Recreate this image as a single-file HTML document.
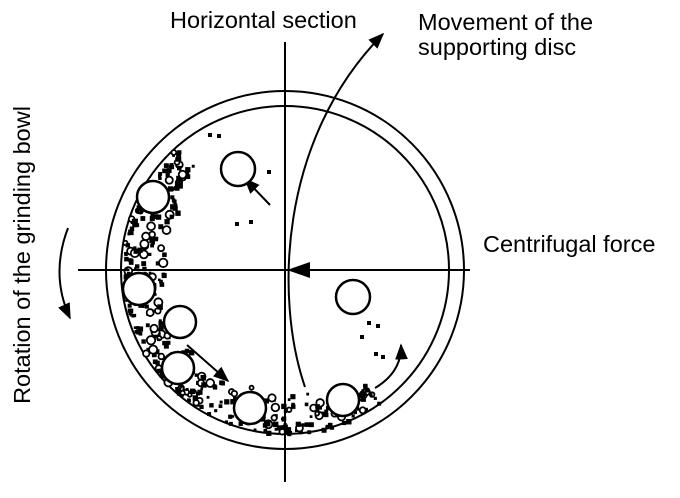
<!DOCTYPE html>
<html><head><meta charset="utf-8"><style>
body{margin:0;background:#fff;width:680px;height:493px;overflow:hidden}
text{font-family:"Liberation Sans",sans-serif;font-size:23.5px;fill:#000}
</style></head><body>
<svg id="s" width="680" height="493" viewBox="0 0 680 493" xmlns="http://www.w3.org/2000/svg">
<defs><marker id="a" viewBox="0 0 10 10" refX="9" refY="5" markerWidth="8" markerHeight="8" orient="auto"><path d="M0,1 L10,5 L0,9 z" fill="#000"/></marker></defs>
<g fill="none" stroke="#000" stroke-width="2">
<circle cx="285" cy="270" r="179"/>
<circle cx="285" cy="270" r="164"/>
<line x1="285" y1="42" x2="285" y2="482"/>
<line x1="78" y1="270" x2="470" y2="270"/>
<path d="M305,387 C275,300 278,140 383,34" marker-end="url(#a)"/>
<path d="M68,228 Q50,275 70,318" marker-end="url(#a)"/>
<line x1="270" y1="205" x2="245" y2="179" marker-end="url(#a)"/>
<line x1="187" y1="345" x2="228" y2="381" marker-end="url(#a)"/>
<path d="M375,388 Q402,372 401,345" marker-end="url(#a)"/>
</g>
<polygon points="287,270 310,262 310,278" fill="#000"/>
<g id="p" fill="#000"></g>
<g fill="#fff" stroke="#000" stroke-width="2.5">
<circle cx="238" cy="169" r="17"/>
<circle cx="153" cy="197" r="16"/>
<circle cx="139" cy="289" r="16"/>
<circle cx="180" cy="322" r="16"/>
<circle cx="178" cy="368" r="16"/>
<circle cx="250" cy="408" r="16"/>
<circle cx="343" cy="400" r="16"/>
<circle cx="353" cy="297" r="17"/>
</g>
<text x="170" y="28">Horizontal section</text>
<text x="418" y="30">Movement of the</text>
<text x="418" y="55">supporting disc</text>
<text x="483" y="252">Centrifugal force</text>
<text transform="translate(30,255) rotate(-90)" text-anchor="middle">Rotation of the grinding bowl</text>
</svg>
<script>
var g=document.getElementById('p'),seed=7;
function r(){seed=(seed*16807)%2147483647;return seed/2147483647;}
for(var i=0;i<420;i++){
 var a=(55+r()*175)*Math.PI/180;
 var rr=162-Math.pow(r(),1.8)*40;
 if(a<80*Math.PI/180||a>215*Math.PI/180) rr=162-r()*25;
 var x=285+rr*Math.cos(a),y=270+rr*Math.sin(a),s=2.5+r()*3;
 var e=document.createElementNS('http://www.w3.org/2000/svg',r()<0.2?'circle':'rect');
 if(e.tagName=='circle'){e.setAttribute('cx',x);e.setAttribute('cy',y);e.setAttribute('r',s/1.3);e.setAttribute('fill','#fff');e.setAttribute('stroke','#000');e.setAttribute('stroke-width','1.8');}
 else{e.setAttribute('x',x);e.setAttribute('y',y);e.setAttribute('width',s);e.setAttribute('height',s);}
 g.appendChild(e);
}
[[267,170],[235,222],[249,220],[367,321],[376,324],[360,335],[208,133],[217,134],[374,352],[381,355]].forEach(function(q){
 var e=document.createElementNS('http://www.w3.org/2000/svg','rect');e.setAttribute('x',q[0]);e.setAttribute('y',q[1]);e.setAttribute('width',4);e.setAttribute('height',4);g.appendChild(e);});
</script>
</body></html>
